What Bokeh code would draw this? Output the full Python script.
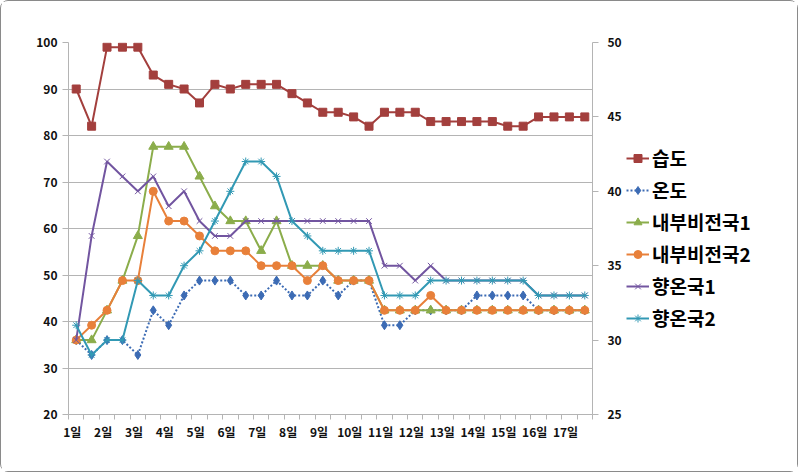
from bokeh.plotting import figure
from bokeh.layouts import row
from bokeh.models import Range1d, LinearAxis, FixedTicker, Legend, LegendItem
from bokeh.embed import file_html
from bokeh.resources import INLINE

day_labels = ["1일", "2일", "3일", "4일", "5일", "6일", "7일", "8일", "9일", "10일",
              "11일", "12일", "13일", "14일", "15일", "16일", "17일"]
points = list(range(34))

humidity = [90, 82, 99, 99, 99, 93, 91, 90, 87, 91, 90, 91, 91, 91, 89, 87, 85, 85, 84, 82,
            85, 85, 85, 83, 83, 83, 83, 83, 82, 82, 84, 84, 84, 84]
temp = [30, 29, 30, 30, 29, 32, 31, 33, 34, 34, 34, 33, 33, 34, 33, 33, 34, 33, 34, 34,
        31, 31, 32, 32, 32, 32, 33, 33, 33, 33, 32, 32, 32, 32]
inner1 = [30, 30, 32, 34, 37, 43, 43, 43, 41, 39, 38, 38, 36, 38, 35, 35, 35, 34, 34, 34,
          32, 32, 32, 32, 32, 32, 32, 32, 32, 32, 32, 32, 32, 32]
inner2 = [30, 31, 32, 34, 34, 40, 38, 38, 37, 36, 36, 36, 35, 35, 35, 34, 35, 34, 34, 34,
          32, 32, 32, 33, 32, 32, 32, 32, 32, 32, 32, 32, 32, 32]
hyang1 = [30, 37, 42, 41, 40, 41, 39, 40, 38, 37, 37, 38, 38, 38, 38, 38, 38, 38, 38, 38,
          35, 35, 34, 35, 34, 34, 34, 34, 34, 34, 33, 33, 33, 33]
hyang2 = [31, 29, 30, 30, 34, 33, 33, 35, 36, 38, 40, 42, 42, 41, 38, 37, 36, 36, 36, 36,
          33, 33, 33, 34, 34, 34, 34, 34, 34, 34, 33, 33, 33, 33]

series_names = ["습도", "온도", "내부비전국1", "내부비전국2", "향온국1", "향온국2"]

FONT = "Noto Sans CJK KR"
GRID = "#b4b4b4"
NAN = float("nan")

p = figure(frame_width=524, frame_height=372, output_backend="svg", toolbar_location=None,
           x_range=Range1d(-0.5, 33.5), y_range=Range1d(20, 100),
           min_border_left=67, min_border_top=41, min_border_right=34, min_border_bottom=57)
p.outline_line_color = None
p.background_fill_color = "white"
p.border_fill_color = "white"
p.extra_y_ranges = {"right": Range1d(25, 50)}

# axes
p.xaxis.ticker = FixedTicker(ticks=[2 * i - 0.25 for i in range(17)],
                             minor_ticks=[i - 0.5 for i in range(35)])
p.xaxis.major_label_overrides = {2 * i - 0.25: day_labels[i] for i in range(17)}
p.xaxis.major_tick_out = 0
p.xaxis.major_tick_in = 0
p.xaxis.minor_tick_out = 5
p.xaxis.minor_tick_in = 0
p.xaxis.minor_tick_line_color = GRID
p.xaxis.axis_line_color = GRID
p.xaxis.major_label_text_font = FONT
p.xaxis.major_label_text_font_size = "12px"
p.xaxis.major_label_text_font_style = "bold"
p.xaxis.major_label_text_color = "#111111"
p.xaxis.major_label_standoff = 3

p.yaxis.ticker = FixedTicker(ticks=[20, 30, 40, 50, 60, 70, 80, 90, 100])
p.yaxis.minor_tick_line_color = None
p.yaxis.major_tick_out = 6
p.yaxis.major_tick_in = 0
p.yaxis.major_tick_line_color = GRID
p.yaxis.axis_line_color = GRID
p.yaxis.major_label_text_font = FONT
p.yaxis.major_label_text_font_size = "12px"
p.yaxis.major_label_text_font_style = "bold"
p.yaxis.major_label_text_color = "#111111"
p.yaxis.major_label_standoff = 5

raxis = LinearAxis(y_range_name="right", ticker=FixedTicker(ticks=[25, 30, 35, 40, 45, 50]))
raxis.minor_tick_line_color = None
raxis.major_tick_out = 6
raxis.major_tick_in = 0
raxis.major_tick_line_color = GRID
raxis.axis_line_color = GRID
raxis.major_label_text_font = FONT
raxis.major_label_text_font_size = "12px"
raxis.major_label_text_font_style = "bold"
raxis.major_label_text_color = "#111111"
raxis.major_label_standoff = 9
p.add_layout(raxis, "right")

p.xgrid.grid_line_color = None
p.ygrid.grid_line_color = GRID
p.ygrid.grid_line_width = 1

# legend-only panel
q = figure(width=171, height=470, output_backend="svg", toolbar_location=None,
           x_range=Range1d(0, 1), y_range=Range1d(0, 1),
           min_border_left=0, min_border_right=0, min_border_top=0, min_border_bottom=0)
q.axis.visible = False
q.grid.visible = False
q.outline_line_color = None
q.background_fill_color = "white"
q.border_fill_color = "white"

items = []

def series(y, color, marker, name, yr="default", dash="solid", msize=8, mline=1):
    kw = dict(marker=marker, size=msize, line_color=color, line_width=mline)
    if marker not in ("x", "asterisk"):
        kw["fill_color"] = color
    p.line(points, y, line_color=color, line_width=2, line_dash=dash, y_range_name=yr)
    p.scatter(points, y, y_range_name=yr, **kw)
    # legend proxies (no visible data)
    ql = q.line([NAN, NAN], [NAN, NAN], line_color=color, line_width=2, line_dash=dash)
    qs = q.scatter([NAN], [NAN], **kw)
    items.append(LegendItem(label=name, renderers=[ql, qs]))

series(humidity, "#A33F3D", "square", series_names[0], msize=8)
series(temp, "#3C6BB4", "diamond", series_names[1], yr="right", dash="2 2", msize=9)
series(inner1, "#8BAD4B", "triangle", series_names[2], yr="right", msize=9)
series(inner2, "#E8803A", "circle", series_names[3], yr="right", msize=8)
series(hyang1, "#7255A0", "x", series_names[4], yr="right", msize=8)
series(hyang2, "#3299B4", "asterisk", series_names[5], yr="right", msize=8)

legend = Legend(items=items, location=(0, 83), padding=0, margin=0,
                border_line_color=None, background_fill_alpha=0,
                label_text_font=FONT, label_text_font_size="19px", label_text_color="#000000",
                label_text_font_style="bold",
                glyph_width=23, glyph_height=20, spacing=5, label_standoff=3)
q.add_layout(legend, "center")

layout = row(p, q, styles={"border": "1px solid #8a8a8a", "border-radius": "8px"})

open("out.html", "w").write(file_html(layout, INLINE))
